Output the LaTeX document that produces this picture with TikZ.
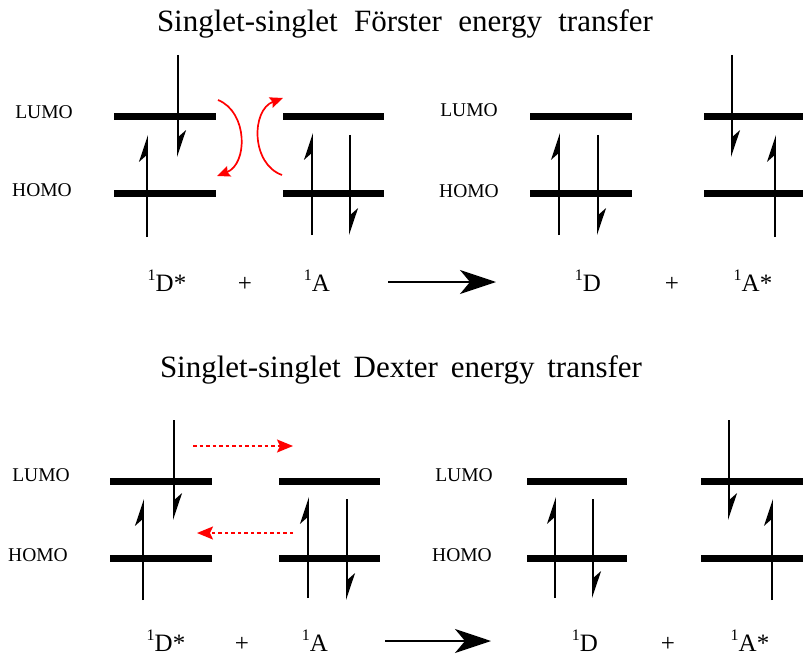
\documentclass[tikz,border=0pt]{standalone}
\usepackage{fontspec}
\setmainfont{Liberation Serif}
\usetikzlibrary{arrows.meta}
\newcommand\spinsup[1]{\raisebox{0.42em}{\fontsize{16}{16}\selectfont #1}}
\begin{document}
\begin{tikzpicture}[x=1pt,y=-1pt,
  level/.style={line width=7pt,line cap=butt},
  spin/.style={line width=1.9pt,-{Stealth[left,length=24pt,width=16pt,inset=7pt]}},
  transfer/.style={red,line width=1.7pt,-{Stealth[length=13pt,width=11pt,inset=2pt]}},
  hop/.style={red,line width=1.7pt,dash pattern=on 3.5pt off 3pt,-{Stealth[length=16pt,width=13pt,inset=3pt]}},
  react/.style={line width=1.9pt,-{Stealth[length=36pt,width=24pt,inset=10pt]}},
  orb/.style={inner sep=0pt,font=\fontsize{19.5}{22}\selectfont},
  spec/.style={inner sep=0pt,anchor=base,font=\fontsize{25}{28}\selectfont},
  title/.style={inner sep=0pt,anchor=base,font=\fontsize{31}{36}\selectfont}
]
\useasboundingbox[fill=white] (0,0) rectangle (803,655);

% ---------------- Foerster ----------------
\node[title] (t1) at (405,32) {\makebox[496pt][s]{Singlet-singlet Förster energy transfer}};

\node[orb] (l1) at (44,112) {LUMO};
\node[orb] (h1) at (42,190) {HOMO};
\node[orb] (l2) at (469,110) {LUMO};
\node[orb] (h2) at (469,191) {HOMO};

% levels
\draw[level] (114,117) -- (216,117);
\draw[level] (114,194) -- (216,194);
\draw[level] (283,117) -- (384,117);
\draw[level] (283,194) -- (384,194);
\draw[level] (530,117) -- (632,117);
\draw[level] (530,194) -- (632,194);
\draw[level] (704,117) -- (806,117);
\draw[level] (704,194) -- (806,194);

% spins
\draw[spin] (178,55) -- (178,157);
\draw[spin] (147,237) -- (147,135);
\draw[spin] (312,235) -- (312,133);
\draw[spin] (350,135) -- (350,235);
\draw[spin] (559,235) -- (559,133);
\draw[spin] (598,135) -- (598,235);
\draw[spin] (732,55) -- (732,157);
\draw[spin] (775,237) -- (775,135);

% coulombic transfer
\draw[transfer] (218,100) .. controls (248,112) and (248,164) .. (217,176);
\draw[transfer] (282,175) .. controls (251,164) and (251,110) .. (283,98);

% species
\node[spec] (d1) at (167,291) {\spinsup{1}D*};
\node[spec] (p1) at (245,291) {+};
\node[spec] (a1) at (317,291) {\spinsup{1}A};
\coordinate (r1s) at (388,282);
\coordinate (r1e) at (496,282);
\draw[react] (r1s) -- (r1e);
\node[spec] (d2) at (588,291) {\spinsup{1}D};
\node[spec] (p2) at (672,291) {+};
\node[spec] (a2) at (753,291) {\spinsup{1}A*};

% ---------------- Dexter ----------------
\node[title] (t2) at (401,377) {\makebox[482pt][s]{Singlet-singlet Dexter energy transfer}};

\node[orb] (l3) at (41,475) {LUMO};
\node[orb] (h3) at (38,555) {HOMO};
\node[orb] (l4) at (464,475) {LUMO};
\node[orb] (h4) at (462,555) {HOMO};

\draw[level] (110,481) -- (212,481);
\draw[level] (110,558) -- (212,558);
\draw[level] (279,481) -- (380,481);
\draw[level] (279,558) -- (380,558);
\draw[level] (527,481) -- (627,481);
\draw[level] (527,558) -- (627,558);
\draw[level] (701,481) -- (806,481);
\draw[level] (701,558) -- (806,558);

\draw[spin] (174,420) -- (174,520);
\draw[spin] (143,600) -- (143,499);
\draw[spin] (308,598) -- (308,497);
\draw[spin] (347,499) -- (347,600);
\draw[spin] (555,598) -- (555,497);
\draw[spin] (593,499) -- (593,598);
\draw[spin] (729,420) -- (729,520);
\draw[spin] (772,600) -- (772,499);

% electron exchange
\coordinate (e1s) at (193,446);
\coordinate (e1e) at (293,446);
\coordinate (e2s) at (293,533);
\coordinate (e2e) at (197,533);
\draw[hop] (e1s) -- (e1e);
\draw[hop] (e2s) -- (e2e);

\node[spec] (d3) at (166,651) {\spinsup{1}D*};
\node[spec] (p3) at (242,651) {+};
\node[spec] (a3) at (315,651) {\spinsup{1}A};
\coordinate (r2s) at (385,641);
\coordinate (r2e) at (491,641);
\draw[react] (r2s) -- (r2e);
\node[spec] (d4) at (585,651) {\spinsup{1}D};
\node[spec] (p4) at (668,651) {+};
\node[spec] (a4) at (750,651) {\spinsup{1}A*};
\end{tikzpicture}
\end{document}
